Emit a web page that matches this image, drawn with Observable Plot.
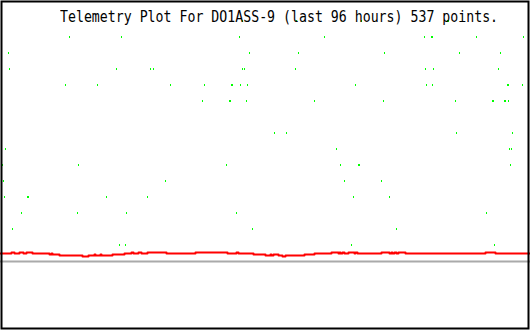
<!DOCTYPE html>
<html><head><meta charset="utf-8">
<script src="https://cdn.jsdelivr.net/npm/d3@7"></script>
<script src="https://cdn.jsdelivr.net/npm/@observablehq/plot@0.6"></script>
<style>
html,body{margin:0;padding:0;background:#fff;}
#wrap{position:relative;width:530px;height:330px;overflow:hidden;}
#wrap svg{position:absolute;left:0;top:0;}
#title{position:absolute;left:60px;top:10px;z-index:2;font-family:"DejaVu Sans Mono",monospace;font-size:15px;line-height:15px;white-space:nowrap;transform:scaleX(0.882);transform-origin:0 0;color:#000;}
</style></head><body>
<div id="wrap"></div>
<script>
const titleText = "Telemetry Plot For DO1ASS-9 (last 96 hours) 537 points.";

// green telemetry channel: level value and sample columns at that level
const greenLevels = [240, 224, 208, 192, 176, 160, 128, 112, 96, 80, 64, 48, 32, 16];
const greenColumns = [
  [242, 296, 361, 447, 448],
  [69, 121, 239, 324, 424, 431, 432, 476, 523],
  [8, 249, 298, 384, 459, 500],
  [9, 116, 150, 153, 242, 244, 295, 425, 433, 498],
  [65, 97, 170, 204, 231, 232, 240, 247, 355, 426, 432, 507, 508, 522],
  [202, 229, 230, 246, 314, 383, 455, 492, 493, 504, 505, 508],
  [274, 286, 456, 512],
  [5, 336, 509, 511],
  [2, 78, 226, 340, 358, 359, 510, 528],
  [3, 165, 344, 381, 528],
  [1, 4, 27, 28, 106, 147, 353, 389],
  [21, 77, 126, 236, 486],
  [12, 252, 396],
  [119, 125, 351, 494]
];

// red telemetry channel: step breakpoints (sample column, value)
const redX = [0, 11, 14, 19, 23, 26, 32, 49, 51, 52, 59, 82, 88, 94, 95, 100, 101, 112, 124, 131, 133, 138, 141, 147, 166, 195, 227, 236, 238, 253,
  265, 270, 271, 273, 278, 282, 285, 304, 314, 331, 338, 339, 340, 342, 344, 348, 354, 355, 357, 381, 389, 391, 392, 394, 396, 398, 405, 485, 495, 529];
const redValues = [8, 9, 8, 9, 8, 9, 8, 7, 8, 7, 6, 5, 6, 7, 6, 7, 6, 7, 8, 9, 8, 9, 8, 9, 8, 9, 8, 9, 8, 7,
  6, 7, 6, 7, 6, 5, 6, 7, 8, 9, 8, 9, 8, 9, 8, 9, 8, 9, 8, 9, 8, 9, 8, 9, 8, 9, 8, 9, 8, 8];

const baseline = [0];

const green = greenLevels.flatMap((v, i) => greenColumns[i].map(x => ({x, v})));
const red = redX.map((x, i) => ({x, v: redValues[i]}));

const chart = Plot.plot({
  width: 530,
  height: 330,
  margin: 0,
  x: {domain: [0, 530], axis: null},
  y: {domain: [-69, 261], axis: null},
  style: {background: "#fff"},
  marks: [
    Plot.ruleY(baseline, {stroke: "#aaaaaa", strokeWidth: 2}),
    Plot.line(red, {x: "x", y: "v", curve: "step-after", stroke: "#ff0000", strokeWidth: 2}),
    Plot.rect(green, {x1: "x", x2: d => d.x + 1, y1: d => d.v - 1, y2: d => d.v + 1, fill: "#00ff00"}),
    Plot.frame({stroke: "#000", strokeWidth: 2, insetLeft: 1, insetTop: 1, insetRight: 2, insetBottom: 2})
  ]
});
const wrap = document.getElementById("wrap");
wrap.appendChild(chart);
const t = document.createElement("div");
t.id = "title";
t.textContent = titleText;
wrap.appendChild(t);
</script>
</body></html>
